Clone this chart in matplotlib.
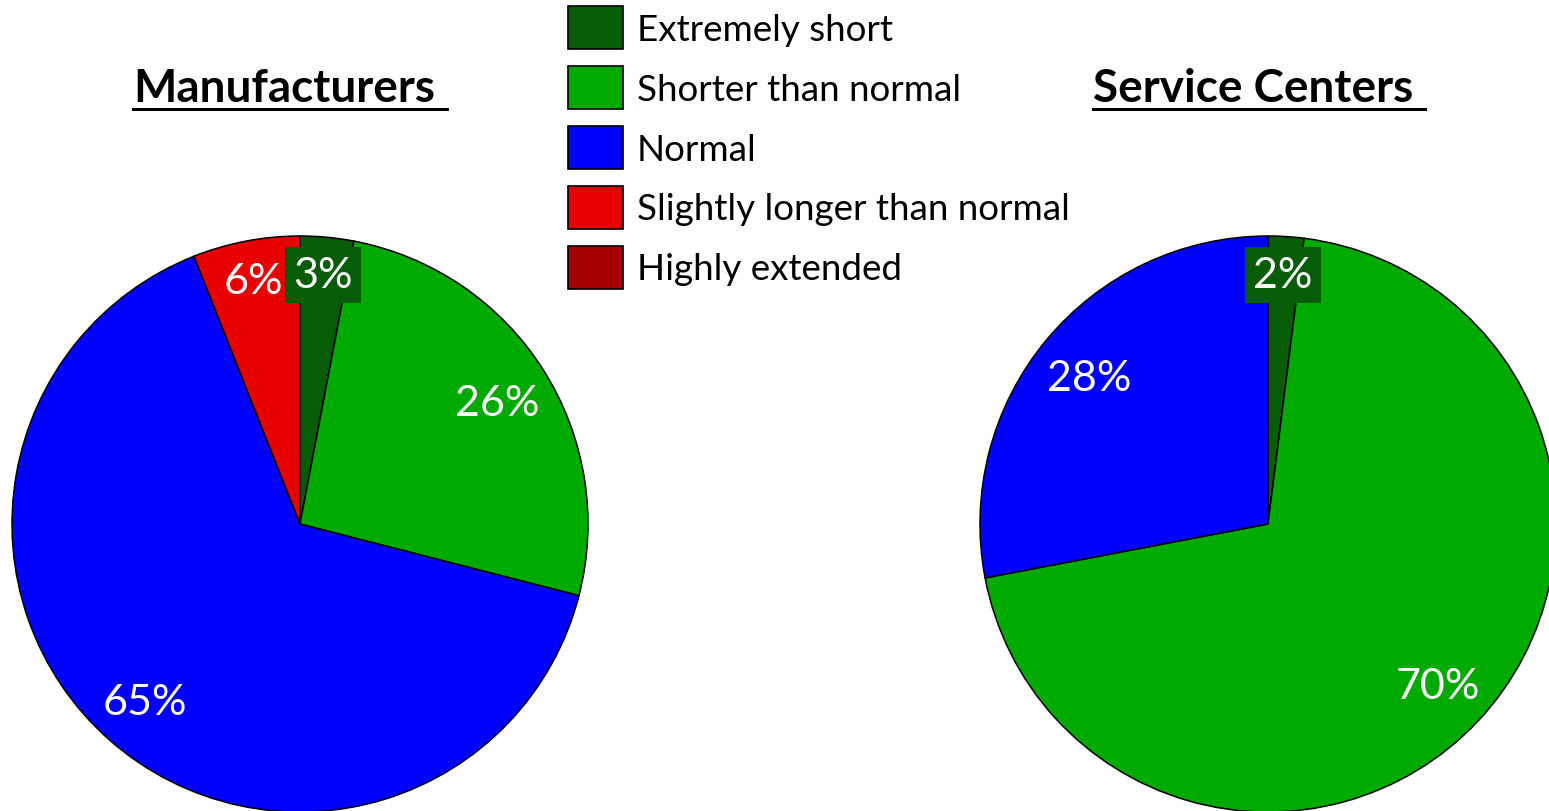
import matplotlib
matplotlib.use("Agg")
import matplotlib.pyplot as plt
from matplotlib.patches import Patch
from matplotlib.lines import Line2D

plt.rcParams['font.family'] = ['Lato', 'DejaVu Sans']

# data
categories = ['Extremely short', 'Shorter than normal', 'Normal',
              'Slightly longer than normal', 'Highly extended']
colors = ['#065d06', '#00aa00', '#0000ff', '#e60000', '#a60000']

manuf_labels = ['Extremely short', 'Shorter than normal', 'Normal', 'Slightly longer than normal']
manuf_values = [3, 26, 65, 6]
service_labels = ['Extremely short', 'Shorter than normal', 'Normal']
service_values = [2, 70, 28]

W, H = 1549, 812
fig = plt.figure(figsize=(W / 100, H / 100), dpi=100)
ax = fig.add_axes([0, 0, 1, 1])
ax.set_xlim(0, W)
ax.set_ylim(0, H)
ax.set_aspect('equal')
ax.axis('off')

cmap = dict(zip(categories, colors))


def draw_pie(values, labels, center, radius, label_pos, boxed):
    wedges, _ = ax.pie(values, colors=[cmap[l] for l in labels], startangle=90,
                       counterclock=False, center=center, radius=radius,
                       wedgeprops=dict(edgecolor='black', linewidth=1.1))
    for w in wedges:
        w.set_clip_on(False)
    for v, (x, y), b in zip(values, label_pos, boxed):
        kw = {}
        if b:
            kw['bbox'] = dict(boxstyle='square,pad=0.2', facecolor='#065d06', edgecolor='none')
        ax.text(x, H - y, f'{v}%', color='white', fontsize=31, ha='center', va='center', **kw)


draw_pie(manuf_values, manuf_labels, (300, H - 525), 288,
         [(323, 276), (497, 404), (145, 703), (253, 282)], [True, False, False, False])
draw_pie(service_values, service_labels, (1268, H - 525), 288,
         [(1283, 276), (1438, 687), (1089, 379)], [True, False, False])
ax.set_xlim(0, W)
ax.set_ylim(0, H)

titles = [('Manufacturers', 284), ('Service Centers', 1253)]
title_texts = []
for t, x in titles:
    title_texts.append(ax.text(x, H - 102, t, fontsize=33, fontweight='bold',
                               ha='center', va='baseline'))

handles = [Patch(facecolor=c, edgecolor='black', linewidth=1.2) for c in colors]
leg = ax.legend(handles, categories, loc='upper left', bbox_to_anchor=(568, H - 7),
                bbox_transform=ax.transData, frameon=False, fontsize=26.5,
                handlelength=1.49, handleheight=1.42, handletextpad=0.38,
                labelspacing=0.46, borderpad=0, borderaxespad=0)

# underline the titles
fig.canvas.draw()
r = fig.canvas.get_renderer()
for tt in title_texts:
    bb = tt.get_window_extent(r)
    ax.add_line(Line2D([bb.x0, bb.x1 + 12], [H - 110, H - 110], color='black', linewidth=2.2))

fig.savefig('out.png', dpi=100)
